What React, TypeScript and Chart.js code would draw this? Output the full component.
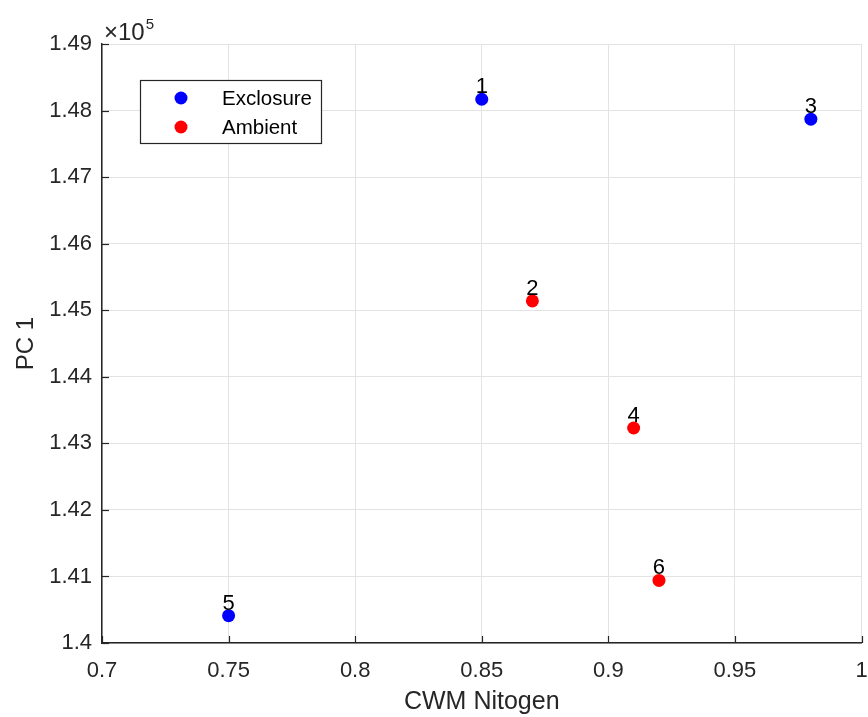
import React, { useEffect, useRef } from "react";
import { Chart, registerables } from "chart.js";

Chart.register(...registerables);

const sampleIds = ["1", "2", "3", "4", "5", "6"];
const treatments = ["Exclosure", "Ambient", "Exclosure", "Ambient", "Exclosure", "Ambient"];
const cwmNitrogen = [0.85, 0.87, 0.98, 0.91, 0.75, 0.92];
const pc1 = [148170, 145140, 147870, 143230, 140410, 140940];
const groups = ["Exclosure", "Ambient"];
const groupColors = ["#0000ff", "#ff0000"];

const FONT = "'Liberation Sans', Arial, Helvetica, sans-serif";
const AXIS = "#262626";

function formatNum(v: number) {
  return String(Number(v.toFixed(4)));
}

const overlayPlugin = {
  id: "overlay",
  afterDatasetsDraw(chart: any) {
    const ctx = chart.ctx;
    const area = chart.chartArea;
    const xs = chart.scales.x;
    const ys = chart.scales.y;
    ctx.save();
    // inward tick marks
    ctx.strokeStyle = AXIS;
    ctx.lineWidth = 1.2;
    xs.ticks.forEach((t: any) => {
      const px = Math.round(xs.getPixelForValue(t.value)) + 0.5;
      ctx.beginPath();
      ctx.moveTo(px, area.bottom);
      ctx.lineTo(px, area.bottom - 7);
      ctx.stroke();
    });
    ys.ticks.forEach((t: any) => {
      const py = Math.round(ys.getPixelForValue(t.value)) + 0.5;
      ctx.beginPath();
      ctx.moveTo(area.left, py);
      ctx.lineTo(area.left + 7, py);
      ctx.stroke();
    });
    // point labels
    ctx.fillStyle = "#000";
    ctx.font = `22px ${FONT}`;
    ctx.textAlign = "center";
    ctx.textBaseline = "alphabetic";
    chart.data.datasets.forEach((ds: any, di: number) => {
      const meta = chart.getDatasetMeta(di);
      meta.data.forEach((el: any, i: number) => {
        ctx.fillText(ds.data[i].id, el.x, el.y - 6);
      });
    });
    // exponent label
    ctx.fillStyle = AXIS;
    ctx.textAlign = "left";
    ctx.font = `24px ${FONT}`;
    ctx.fillText("\u00d710", area.left + 2, area.top - 4);
    const w = ctx.measureText("\u00d710").width;
    ctx.font = `15px ${FONT}`;
    ctx.fillText("5", area.left + 3 + w, area.top - 15);
    // legend
    const lx = 140, ly = 80, lw = 181, lh = 63;
    ctx.fillStyle = "#fff";
    ctx.fillRect(lx, ly, lw, lh);
    ctx.strokeStyle = AXIS;
    ctx.lineWidth = 1.2;
    ctx.strokeRect(lx + 0.5, ly + 0.5, lw, lh);
    chart.data.datasets.forEach((ds: any, di: number) => {
      const cy = ly + 18 + di * 29;
      ctx.fillStyle = ds.backgroundColor;
      ctx.beginPath();
      ctx.arc(lx + 41, cy, 6.5, 0, Math.PI * 2);
      ctx.fill();
      ctx.fillStyle = "#000";
      ctx.font = `20.5px ${FONT}`;
      ctx.textAlign = "left";
      ctx.textBaseline = "middle";
      ctx.fillText(ds.label, lx + 82, cy + 1);
    });
    ctx.restore();
  },
};

export default function App() {
  const ref = useRef<HTMLCanvasElement>(null);
  useEffect(() => {
    document.body.style.margin = "0";
    const datasets = groups.map((g, gi) => ({
      label: g,
      data: cwmNitrogen
        .map((x, i) => ({ x, y: pc1[i], id: sampleIds[i], t: treatments[i] }))
        .filter((p) => p.t === g),
      backgroundColor: groupColors[gi],
      borderColor: groupColors[gi],
      pointRadius: 6.5,
      pointBorderWidth: 0,
      showLine: false,
    }));
    const chart = new Chart(ref.current!, {
      type: "scatter",
      data: { datasets },
      options: {
        animation: false,
        responsive: false,
        layout: { padding: { top: 44, right: 5, left: 0, bottom: 0 } },
        plugins: { legend: { display: false }, tooltip: { enabled: false } },
        scales: {
          x: {
            type: "linear",
            min: 0.7,
            max: 1.0,
            afterFit: (s: any) => {
              s.height = 74;
              s.paddingLeft = 0;
              s.paddingRight = 0;
            },
            ticks: {
              stepSize: 0.05,
              padding: 15,
              color: AXIS,
              font: { family: FONT, size: 22 },
              callback: (v: any) => formatNum(Number(v)),
            },
            grid: { color: "#e3e3e3", lineWidth: 1, drawTicks: false },
            border: { color: AXIS, width: 1.5 },
            title: {
              display: true,
              text: "CWM Nitogen",
              color: AXIS,
              font: { family: FONT, size: 25 },
              padding: { top: 0, bottom: 0 },
            },
          },
          y: {
            type: "linear",
            min: 140000,
            max: 149000,
            afterFit: (s: any) => {
              s.width = 102;
              s.paddingTop = 0;
              s.paddingBottom = 0;
            },
            ticks: {
              stepSize: 1000,
              padding: 10,
              color: AXIS,
              font: { family: FONT, size: 22 },
              callback: (v: any) => formatNum(Number(v) / 1e5),
            },
            grid: { color: "#e3e3e3", lineWidth: 1, drawTicks: false },
            border: { color: AXIS, width: 1.5 },
            title: {
              display: true,
              text: "PC 1",
              color: AXIS,
              font: { family: FONT, size: 24 },
              padding: { top: 12, bottom: 0 },
            },
          },
        },
      },
      plugins: [overlayPlugin],
    } as any);
    return () => chart.destroy();
  }, []);
  return <canvas ref={ref} width={868} height={717} style={{ display: "block" }} />;
}
